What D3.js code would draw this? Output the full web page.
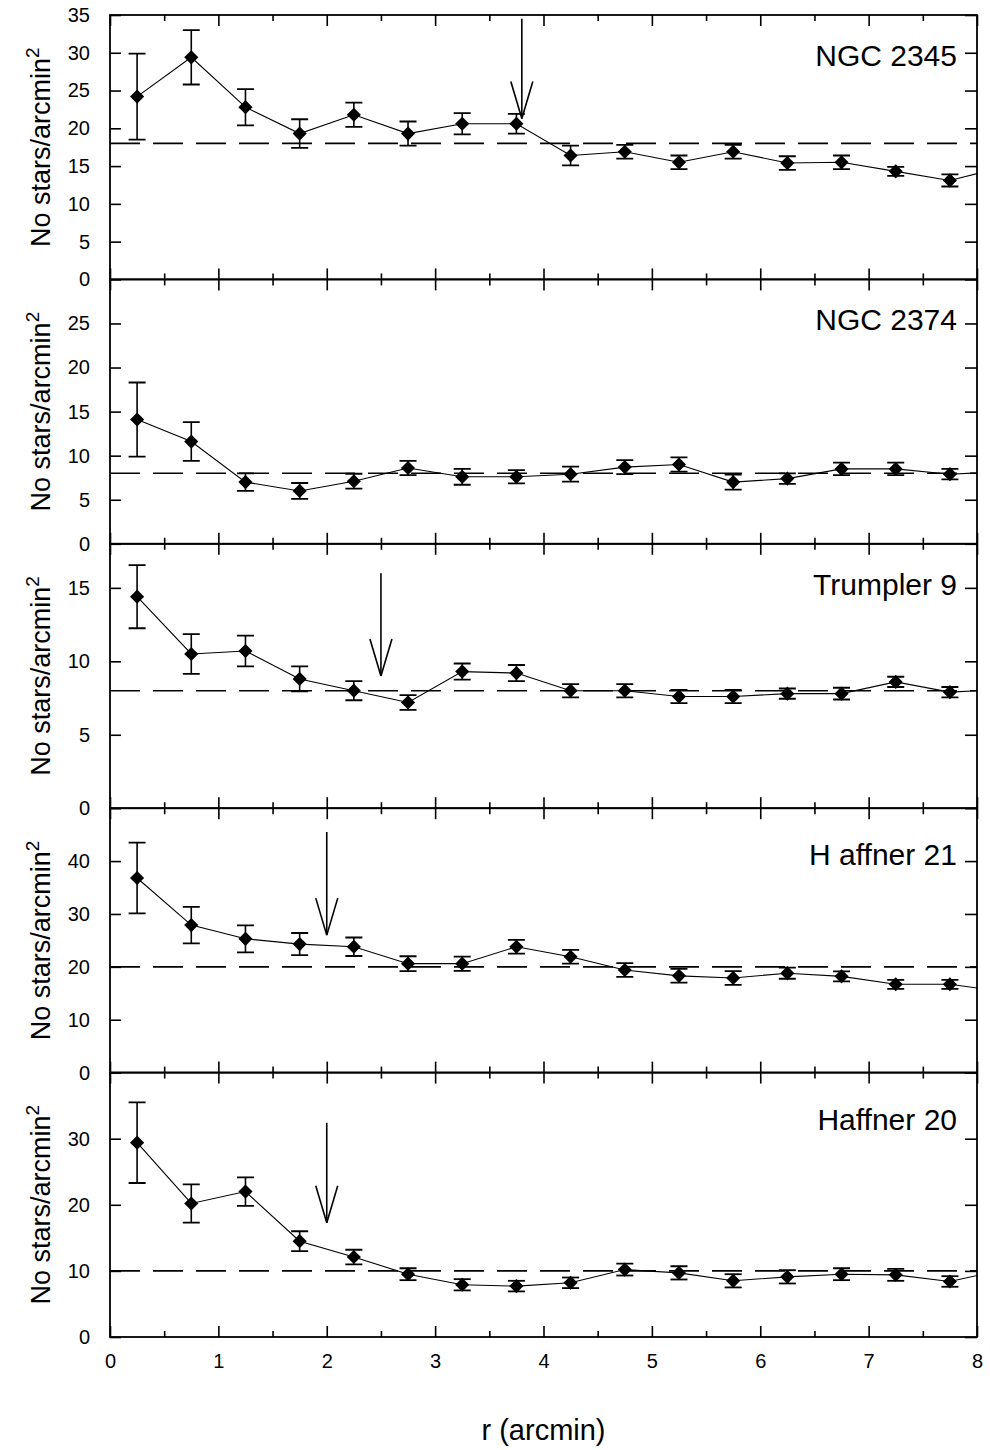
<!DOCTYPE html>
<html>
<head>
<meta charset="utf-8">
<script src="https://cdn.jsdelivr.net/npm/d3@7"></script>
<style>
  body { margin: 0; background: #fff; }
  text { font-family: "Liberation Sans", Arial, sans-serif; fill: #000; }
</style>
</head>
<body>
<div id="chart"></div>
<script>
// radius bins (arcmin); last one lies just past the frame, only its segment shows
var r = [0.25, 0.75, 1.25, 1.75, 2.25, 2.75, 3.25, 3.75, 4.25, 4.75, 5.25, 5.75, 6.25, 6.75, 7.25, 7.75, 8.25];

var clusters = ["NGC 2345", "NGC 2374", "Trumpler 9", "H affner 21", "Haffner 20"];

var ngc2345     = [24.2, 29.4, 22.8, 19.3, 21.8, 19.3, 20.6, 20.6, 16.4, 16.9, 15.5, 16.9, 15.4, 15.5, 14.3, 13.1, 14.9];
var ngc2345Err  = [5.7, 3.6, 2.4, 1.9, 1.6, 1.6, 1.4, 1.3, 1.3, 0.9, 0.9, 0.9, 0.9, 0.9, 0.6, 0.8, 0];
var ngc2374     = [14.1, 11.6, 7.0, 6.0, 7.1, 8.6, 7.6, 7.6, 7.9, 8.7, 9.0, 7.0, 7.4, 8.5, 8.5, 7.9, 8.2];
var ngc2374Err  = [4.2, 2.2, 1.0, 0.9, 0.85, 0.8, 0.9, 0.75, 0.85, 0.8, 0.8, 0.85, 0.6, 0.7, 0.7, 0.6, 0];
var trumpler9   = [14.4, 10.5, 10.7, 8.8, 8.0, 7.2, 9.3, 9.2, 8.0, 8.0, 7.6, 7.6, 7.8, 7.8, 8.6, 7.9, 8.1];
var trumpler9Err= [2.15, 1.35, 1.05, 0.85, 0.65, 0.5, 0.55, 0.55, 0.45, 0.45, 0.45, 0.45, 0.35, 0.4, 0.35, 0.35, 0];
var haffner21   = [36.8, 27.9, 25.3, 24.3, 23.8, 20.6, 20.6, 23.8, 21.9, 19.4, 18.3, 17.9, 18.8, 18.2, 16.7, 16.7, 15.3];
var haffner21Err= [6.7, 3.45, 2.55, 2.1, 1.75, 1.4, 1.35, 1.3, 1.3, 1.3, 1.3, 1.3, 1.05, 0.95, 0.85, 0.85, 0];
var haffner20   = [29.4, 20.2, 22.0, 14.5, 12.1, 9.5, 7.9, 7.7, 8.2, 10.2, 9.7, 8.5, 9.1, 9.5, 9.4, 8.4, 10.2];
var haffner20Err= [6.1, 2.9, 2.15, 1.5, 1.1, 0.9, 0.85, 0.8, 0.8, 0.9, 1.0, 1.0, 1.0, 0.9, 0.9, 0.8, 0];

var background = [18, 8, 8, 20, 10];
var yMax = [35, 30, 18, 50, 40];
var yTicks = [
  [0, 5, 10, 15, 20, 25, 30, 35],
  [0, 5, 10, 15, 20, 25],
  [0, 5, 10, 15],
  [0, 10, 20, 30, 40],
  [0, 10, 20, 30]
];
var xTicks = [0, 1, 2, 3, 4, 5, 6, 7, 8];
var xMinor = [0.5, 1.5, 2.5, 3.5, 4.5, 5.5, 6.5, 7.5];

// arrows marking the cluster radius
var arrowPanel = [0, 2, 3, 4];
var arrowR     = [3.8, 2.5, 2.0, 2.0];
var arrowFrom  = [34.5, 16.0, 45.5, 32.4];
var arrowTo    = [21.3, 9.0, 26.0, 17.3];

var series = [ngc2345, ngc2374, trumpler9, haffner21, haffner20];
var errs = [ngc2345Err, ngc2374Err, trumpler9Err, haffner21Err, haffner20Err];

var W = 990, H = 1450,
    plotL = 110, plotR = 977, plotT = 15, plotB = 1337,
    panelH = (plotB - plotT) / 5;

var svg = d3.select("#chart").append("svg")
    .attr("width", W)
    .attr("height", H);

var x = d3.scaleLinear().domain([0, 8]).range([plotL, plotR]);

var diamond = d3.symbol().type(d3.symbolSquare).size(100);

series.forEach(function(vals, i) {
  var y0 = plotT + i * panelH;
  var y = d3.scaleLinear().domain([0, yMax[i]]).range([y0 + panelH, y0]);
  var pts = r.map(function(d, j) { return {r: d, v: vals[j], e: errs[i][j]}; });

  var g = svg.append("g");

  svg.append("clipPath").attr("id", "clip" + i)
    .append("rect")
      .attr("x", plotL).attr("y", y0)
      .attr("width", plotR - plotL).attr("height", panelH);

  var plot = g.append("g").attr("clip-path", "url(#clip" + i + ")");

  // background level
  plot.append("line")
      .attr("x1", plotL).attr("x2", plotR)
      .attr("y1", y(background[i])).attr("y2", y(background[i]))
      .attr("stroke", "#000")
      .attr("stroke-width", 1.6)
      .attr("stroke-dasharray", "30,13");

  // profile line
  plot.append("path")
      .datum(pts)
      .attr("fill", "none")
      .attr("stroke", "#000")
      .attr("stroke-width", 1.1)
      .attr("d", d3.line().x(d => x(d.r)).y(d => y(d.v)));

  var eb = plot.selectAll(".eb")
      .data(pts.filter(d => d.e > 0))
      .enter().append("g");

  eb.append("line")
      .attr("x1", d => x(d.r)).attr("x2", d => x(d.r))
      .attr("y1", d => y(d.v - d.e)).attr("y2", d => y(d.v + d.e))
      .attr("stroke", "#000").attr("stroke-width", 1.6);
  eb.append("line")
      .attr("x1", d => x(d.r) - 8.5).attr("x2", d => x(d.r) + 8.5)
      .attr("y1", d => y(d.v + d.e)).attr("y2", d => y(d.v + d.e))
      .attr("stroke", "#000").attr("stroke-width", 1.8);
  eb.append("line")
      .attr("x1", d => x(d.r) - 8.5).attr("x2", d => x(d.r) + 8.5)
      .attr("y1", d => y(d.v - d.e)).attr("y2", d => y(d.v - d.e))
      .attr("stroke", "#000").attr("stroke-width", 1.8);

  plot.selectAll(".pt")
      .data(pts)
      .enter().append("path")
      .attr("d", diamond)
      .attr("fill", "#000")
      .attr("transform", d => "translate(" + x(d.r) + "," + y(d.v) + ") rotate(45)");

  // axes, ticks pointing inward
  var ax = [
    g.append("g").attr("transform", "translate(0," + y0 + ")")
      .call(d3.axisTop(x).tickValues(xTicks).tickSize(-11).tickFormat("")),
    g.append("g").attr("transform", "translate(0," + y0 + ")")
      .call(d3.axisTop(x).tickValues(xMinor).tickSize(-6).tickFormat("")),
    g.append("g").attr("transform", "translate(0," + (y0 + panelH) + ")")
      .call(d3.axisBottom(x).tickValues(xMinor).tickSize(-6).tickFormat("")),
    g.append("g").attr("transform", "translate(" + plotR + ",0)")
      .call(d3.axisRight(y).tickValues(yTicks[i]).tickSize(-12).tickFormat("")),
    g.append("g").attr("transform", "translate(" + plotL + ",0)")
      .call(d3.axisLeft(y).tickValues(yTicks[i]).tickSize(-11).tickPadding(20).tickFormat(d3.format("d")))
  ];
  var xb = g.append("g").attr("transform", "translate(0," + (y0 + panelH) + ")")
      .call(d3.axisBottom(x).tickValues(xTicks).tickSize(-11).tickPadding(17)
        .tickFormat(i == 4 ? d3.format("d") : ""));
  ax.push(xb);
  ax.forEach(function(a) {
    a.select(".domain").remove();
    a.selectAll(".tick line").attr("stroke", "#000").attr("stroke-width", 1.6);
    a.selectAll("text").style("font-size", "20px").style("font-family", "Liberation Sans, Arial, sans-serif");
  });

  g.append("rect")
      .attr("x", plotL).attr("y", y0)
      .attr("width", plotR - plotL).attr("height", panelH)
      .attr("fill", "none")
      .attr("stroke", "#000")
      .attr("stroke-width", 1.8);

  g.append("text")
      .attr("x", plotR - 20)
      .attr("y", y0 + (i < 3 ? 51 : 57))
      .attr("text-anchor", "end")
      .style("font-size", "30px")
      .text(clusters[i]);

  var yl = g.append("text")
      .attr("transform", "translate(50," + (y0 + panelH / 2) + ") rotate(-90)")
      .attr("text-anchor", "middle")
      .style("font-size", "27px");
  yl.append("tspan").text("No stars/arcmin");
  yl.append("tspan").attr("dy", -11).style("font-size", "19px").text("2");
});

// arrows
arrowPanel.forEach(function(p, k) {
  var y0 = plotT + p * panelH;
  var y = d3.scaleLinear().domain([0, yMax[p]]).range([y0 + panelH, y0]);
  var ax = x(arrowR[k]), yt = y(arrowTo[k]);
  var a = svg.append("g").attr("stroke", "#000").attr("stroke-width", 1.6).attr("fill", "none");
  a.append("line").attr("x1", ax).attr("x2", ax).attr("y1", y(arrowFrom[k])).attr("y2", yt);
  a.append("line").attr("x1", ax - 11).attr("x2", ax).attr("y1", yt - 37).attr("y2", yt);
  a.append("line").attr("x1", ax + 11).attr("x2", ax).attr("y1", yt - 37).attr("y2", yt);
});

svg.append("text")
    .attr("x", (plotL + plotR) / 2)
    .attr("y", 1440)
    .attr("text-anchor", "middle")
    .style("font-size", "29px")
    .text("r (arcmin)");
</script>
</body>
</html>
